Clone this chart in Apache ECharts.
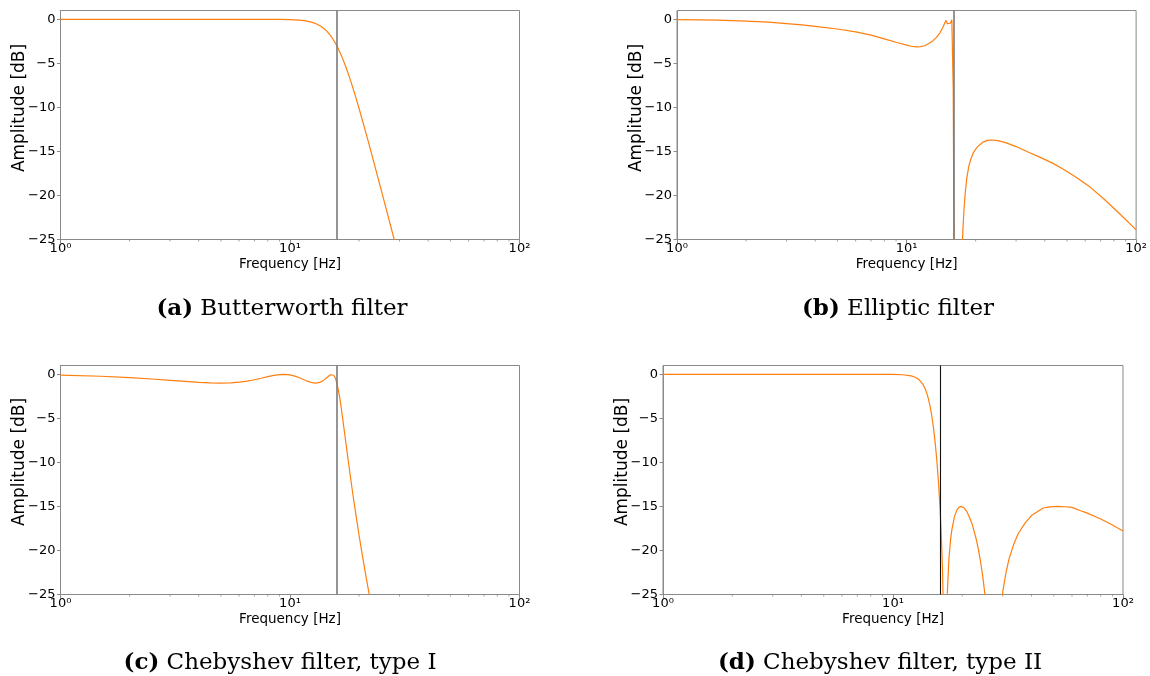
<!DOCTYPE html>
<html><head><meta charset="utf-8">
<script src="https://cdn.jsdelivr.net/npm/echarts@6/dist/echarts.min.js"></script>
<style>html,body{margin:0;padding:0;background:#fff}#c{width:1150px;height:676px}</style>
</head><body><div id="c"></div>
<script>
// ---- data ----
const freqA = [1, 2, 4, 6, 8, 9, 10, 10.5, 11, 11.5, 12, 12.5, 13, 13.5, 14, 14.5, 15, 15.5, 16, 16.5, 17, 17.5, 18, 18.5, 19, 19.5, 20, 21, 22, 23, 24, 25, 26, 27, 28, 29];
const ampA  = [0, 0, 0, 0, -0.004, -0.014, -0.04, -0.064, -0.1, -0.157, -0.24, -0.353, -0.51, -0.73, -1.01, -1.37, -1.83, -2.38, -3.01, -3.73, -4.52, -5.38, -6.28, -7.22, -8.18, -9.15, -10.13, -12.09, -14.0, -15.88, -17.69, -19.43, -21.12, -22.75, -24.32, -25.83];

const freqB = [1, 1.25, 1.5, 2, 2.5, 3, 3.5, 4, 5, 6, 7, 8, 9, 10, 10.5, 11, 11.5, 12, 12.5, 13, 13.5, 14, 14.4, 14.85, 15.05, 15.25, 15.5, 15.75, 15.9, 15.97, 16.05, 16.15,
               17.4, 17.6, 17.8, 18, 18.3, 18.7, 19.1, 19.5, 20, 20.5, 21.5, 22.5, 23.5, 25, 27, 30, 34, 38, 43, 48, 55, 63, 72, 85, 100];
const ampB  = [-0.03, -0.06, -0.1, -0.2, -0.33, -0.5, -0.64, -0.8, -1.1, -1.42, -1.8, -2.22, -2.6, -2.93, -3.06, -3.12, -3.1, -3.0, -2.75, -2.45, -2.05, -1.5, -0.9, -0.12, -0.5, -0.65, -0.45, -0.05, 0.05, -8, -20, -30,
               -27, -23.8, -21.5, -19.8, -18.0, -16.6, -15.8, -15.2, -14.75, -14.4, -13.95, -13.75, -13.7, -13.78, -14.0, -14.45, -15.1, -15.65, -16.3, -17.0, -17.95, -19.05, -20.35, -22.1, -23.9];

const freqC = [1, 1.5, 2, 2.5, 3, 3.5, 4, 4.5, 4.94, 5.5, 6, 6.5, 7, 7.5, 8, 8.5, 9, 9.4, 10, 10.5, 11, 11.5, 12, 12.5, 12.9, 13.5, 14, 14.5, 15, 15.2, 15.5, 15.75, 16,
               16.25, 16.5, 16.75, 17, 17.25, 17.5, 18, 18.5, 19, 19.5, 20, 20.5, 21, 21.5, 22, 22.5];
const ampC  = [-0.1, -0.22, -0.37, -0.53, -0.68, -0.81, -0.92, -0.98, -1.0, -0.97, -0.89, -0.77, -0.62, -0.45, -0.27, -0.12, -0.03, 0, -0.06, -0.2, -0.39, -0.61, -0.81, -0.955, -1.0, -0.92, -0.69, -0.36, -0.05, 0, -0.11, -0.42, -1.0,
               -1.82, -2.75, -3.97, -5.2, -6.46, -7.7, -10.1, -12.37, -14.5, -16.45, -18.3, -20.0, -21.6, -23.18, -24.6, -26.0];

const freqD = [1, 4, 8, 10, 11, 12, 12.5, 13, 13.25, 13.5, 13.75, 14, 14.25, 14.5, 14.75, 15, 15.25, 15.5, 15.75, 16, 16.2, 16.4, 16.6,
               17.2, 17.5, 17.8, 18, 18.5, 19, 19.4, 19.8, 20.4, 21, 21.5, 22, 22.5, 23, 23.5, 24, 24.5, 25, 25.5,
               29, 30, 31, 32, 33.5, 35, 37.5, 40, 45, 48, 52, 56, 60, 65, 70, 80, 90, 100];
const ampD  = [0, 0, -0.001, -0.015, -0.053, -0.18, -0.34, -0.63, -0.85, -1.15, -1.55, -2.08, -2.77, -3.64, -4.76, -6.09, -7.75, -9.7, -12.09, -15.0, -17.9, -21.9, -28.0,
               -25.2, -21.0, -18.77, -17.74, -16.16, -15.36, -15.08, -15.0, -15.19, -15.63, -16.27, -16.87, -17.78, -18.7, -19.86, -21.2, -22.75, -24.6, -27.0,
               -28.1, -24.7, -22.5, -20.9, -19.3, -18.1, -16.9, -16.04, -15.18, -15.05, -15.0, -15.04, -15.11, -15.46, -15.76, -16.43, -17.1, -17.79];

const cutoffs = [16, 16, 16, 16];
const captionTags = ['(a)', '(b)', '(c)', '(d)'];
const captionTexts = [' Butterworth filter', ' Elliptic filter', ' Chebyshev filter, type I', ' Chebyshev filter, type II'];
const yTickValues = [-25, -20, -15, -10, -5, 0];
const xTickText = {0: '10\u2070', 1: '10\u00B9', 2: '10\u00B2'};
const minorTicks = [2, 3, 4, 5, 6, 7, 8, 9, 20, 30, 40, 50, 60, 70, 80, 90];
const xTitle = 'Frequency [Hz]';
const yTitle = 'Amplitude [dB]';

// ---- layout ----
const freqs = [freqA, freqB, freqC, freqD];
const amps = [ampA, ampB, ampC, ampD];
const grids = [
  {left: 60.5, top: 10.5, width: 459, height: 229},
  {left: 677, top: 10.5, width: 460, height: 229},
  {left: 60.5, top: 365.5, width: 459, height: 229},
  {left: 663, top: 365.5, width: 460, height: 229}
];
const vlineColors = ['#7a7a7a', '#7a7a7a', '#7a7a7a', '#111111'];
const vlineWidths = [1.6, 1.6, 1.6, 1.1];
const captionPos = [[282, 309], [898, 309], [280, 663], [880, 663]];
const ylabPos = [[20, 108], [636.5, 108], [20, 462], [622.5, 462]];
const spine = '#8a8a8a';
const sans = '"DejaVu Sans", sans-serif';
const serif = '"DejaVu Serif", serif';

const option = {
  animation: false,
  backgroundColor: '#fff',
  grid: grids.map(g => Object.assign({show: true, borderColor: spine, borderWidth: 1, backgroundColor: 'transparent'}, g)),
  xAxis: grids.map((g, i) => ({
    type: 'log', logBase: 10, min: 1, max: 100, gridIndex: i,
    name: xTitle, nameLocation: 'middle', nameGap: 18,
    nameTextStyle: {fontFamily: sans, fontSize: 13.5, color: '#000'},
    axisLine: {show: true, onZero: false, lineStyle: {color: spine, width: 1}},
    axisTick: {show: true, inside: false, length: 3.5, lineStyle: {color: spine}},
    axisLabel: {margin: 3, fontFamily: sans, fontSize: 13, color: '#000',
      formatter: v => xTickText[Math.round(Math.log10(v))] || ''},
    splitLine: {show: false}, minorTick: {show: false}
  })),
  yAxis: grids.map((g, i) => ({
    type: 'value', min: -25, max: 1, gridIndex: i,
    axisLine: {show: true, onZero: false, lineStyle: {color: spine, width: 1}},
    axisTick: {show: true, length: 3.5, customValues: yTickValues, lineStyle: {color: spine}},
    axisLabel: {margin: 5, fontFamily: sans, fontSize: 13, color: '#000', customValues: yTickValues,
      formatter: v => v < 0 ? '\u2212' + Math.abs(v) : String(v)},
    splitLine: {show: false}
  })),
  graphic: [],
  series: []
};

freqs.forEach((fr, i) => {
  option.series.push({
    type: 'line', xAxisIndex: i, yAxisIndex: i,
    data: fr.map((f, k) => [f, amps[i][k]]),
    showSymbol: false, symbol: 'none', clip: true, silent: true,
    lineStyle: {color: '#ff7f0e', width: 1.2},
    markLine: {
      silent: true, symbol: ['none', 'none'], label: {show: false},
      lineStyle: {color: vlineColors[i], width: vlineWidths[i], type: 'solid'},
      data: [{xAxis: cutoffs[i]}]
    },
    z: 3
  });
  option.series.push({
    type: 'custom', xAxisIndex: i, yAxisIndex: i, silent: true, clip: false,
    data: minorTicks.map(v => [v, -25]),
    renderItem: (params, api) => {
      const p = api.coord([api.value(0), api.value(1)]);
      return {type: 'line', shape: {x1: p[0], y1: p[1], x2: p[0], y2: p[1] + 2},
              style: {stroke: spine, lineWidth: 0.8}};
    }
  });
  option.graphic.push({
    type: 'text', x: captionPos[i][0], y: captionPos[i][1], silent: true,
    style: {
      text: '{b|' + captionTags[i] + '}{n|' + captionTexts[i] + '}',
      align: 'center', verticalAlign: 'middle',
      rich: {
        b: {fontFamily: serif, fontWeight: 'bold', fontSize: 23, fill: '#000'},
        n: {fontFamily: serif, fontSize: 23, fill: '#000'}
      }
    }
  });
  option.graphic.push({
    type: 'text', x: ylabPos[i][0], y: ylabPos[i][1], rotation: Math.PI / 2, silent: true,
    style: {text: yTitle, font: '17px ' + sans, fill: '#000', align: 'center', verticalAlign: 'middle'}
  });
});

const chart = echarts.init(document.getElementById('c'), null, {renderer: 'canvas'});
chart.setOption(option);
</script>
</body></html>
